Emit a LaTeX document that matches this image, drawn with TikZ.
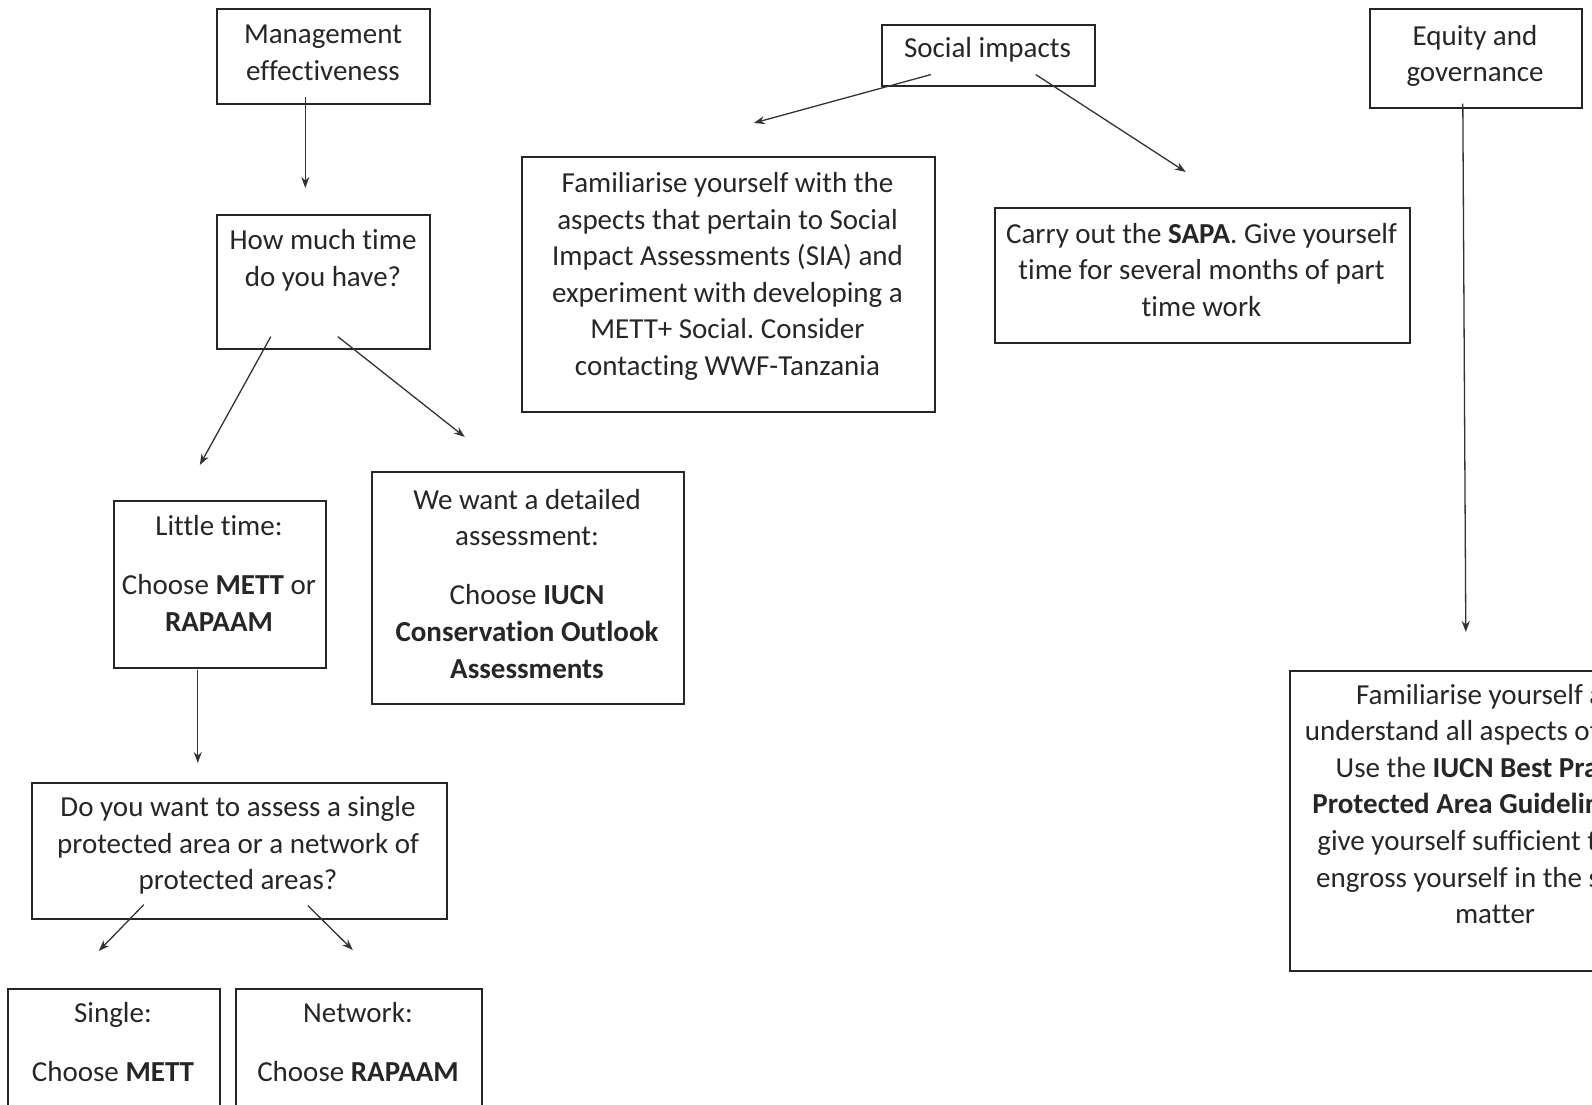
\documentclass[tikz,border=0pt]{standalone}
\usepackage{fontspec}
\setmainfont{Carlito}[Ligatures=NoCommon]
\usetikzlibrary{arrows.meta,calc}
\frenchspacing
\begin{document}
\begin{tikzpicture}[x=1pt,y=-1pt,
  box/.style={draw=black!85, line width=1.6pt, inner sep=0pt, anchor=north west},
  txt/.style={align=center, inner sep=0pt, text=black!85, font=\fontsize{29}{36.6}\selectfont},
  arr/.style={draw=black!80, line width=1.3pt, -{Stealth[length=11pt,width=8pt]}}]
\useasboundingbox (0,0) rectangle (1592,1104);
\clip (0,0) rectangle (1592,1104);
% boxes
\node[box, minimum width=213pt, minimum height=95pt]  (me)   at (216,8) {};
\node[box, minimum width=213pt, minimum height=134pt] (hm)   at (216,214) {};
\node[box, minimum width=212pt, minimum height=167pt] (lt)   at (113,500) {};
\node[box, minimum width=312pt, minimum height=232pt] (ww)   at (371,471) {};
\node[box, minimum width=415pt, minimum height=136pt] (dy)   at (31,782) {};
\node[box, minimum width=212pt, minimum height=140pt] (si)   at (7,988) {};
\node[box, minimum width=246pt, minimum height=140pt] (nw)   at (235,988) {};
\node[box, minimum width=213pt, minimum height=61pt]  (sc)   at (881,24) {};
\node[box, minimum width=413pt, minimum height=255pt] (fam)  at (521,156) {};
\node[box, minimum width=415pt, minimum height=135pt] (sapa) at (994,207) {};
\node[box, minimum width=212pt, minimum height=99pt]  (eq)   at (1369,8) {};
\node[box, minimum width=412pt, minimum height=300pt] (rb)   at (1289,670) {};
% texts
\node[txt] (meT) at (323,52.5) {Management\\effectiveness};
\node[txt] (hmT) at (323,260) {How much time\\do you have?};
\node[txt] (ltT) at (219,573.5) {Little time:\\[22.4pt]Choose \textbf{METT} or\\\textbf{RAPAAM}};
\node[txt] (wwT) at (527,583.75) {We want a detailed\\assessment:\\[22.4pt]Choose \textbf{IUCN}\\\textbf{Conservation Outlook}\\\textbf{Assessments}};
\node[txt] (dyT) at (238,845.5) {Do you want to assess a single\\protected area or a network of\\protected areas?};
\node[txt] (siT) at (113,1042.5) {Single:\\[22.4pt]Choose \textbf{METT}};
\node[txt] (nwT) at (358,1042.5) {Network:\\[22.4pt]Choose \textbf{RAPAAM}};
\node[txt] (scT) at (987.5,50) {Social impacts};
\node[txt] (famT) at (727.5,276.5) {Familiarise yourself with the\\aspects that pertain to Social\\Impact Assessments (SIA) and\\experiment with developing a\\METT+ Social. Consider\\contacting WWF-Tanzania};
\node[txt] (sapaT) at (1201.5,270) {Carry out the \textbf{SAPA}. Give yourself\\time for several months of part\\time work};
\node[txt] (eqT) at (1475,56) {Equity and\\governance};
\node[txt] (rbT) at (1495,804) {Familiarise yourself and\\understand all aspects of equity.\\Use the \textbf{IUCN Best Practice}\\\textbf{Protected Area Guidelines} and\\give yourself sufficient time to\\engross yourself in the subject\\matter};
% connectors
\draw[arr] ($(me.south)+(-18,-8)$) -- ($(hm.north)+(-18,-26)$);
\draw[arr] ($(hm.south)+(-52.5,-13)$) -- ($(lt.north)+(-20,-35)$);
\draw[arr] ($(hm.south)+(14.5,-13)$) -- ($(ww.north)+(-63,-34)$);
\draw[arr] ($(lt.south)+(-22,1)$) -- ($(dy.north)+(-41.5,-19)$);
\draw[arr] ($(dy.south)+(-95.5,-15)$) -- ($(si.north)+(-15,-37)$);
\draw[arr] ($(dy.south)+(68.5,-14)$) -- ($(nw.north)+(-6,-38)$);
\draw[arr] ($(sc.south)+(-57.5,-12)$) -- ($(fam.north)+(25.5,-33)$);
\draw[arr] ($(sc.south)+(47.5,-12)$) -- ($(sapa.north)+(-16.5,-35)$);
\draw[arr] ($(eq.south)+(-13,-5)$) -- ($(rb.north)+(-30,-38)$);
\end{tikzpicture}
\end{document}
